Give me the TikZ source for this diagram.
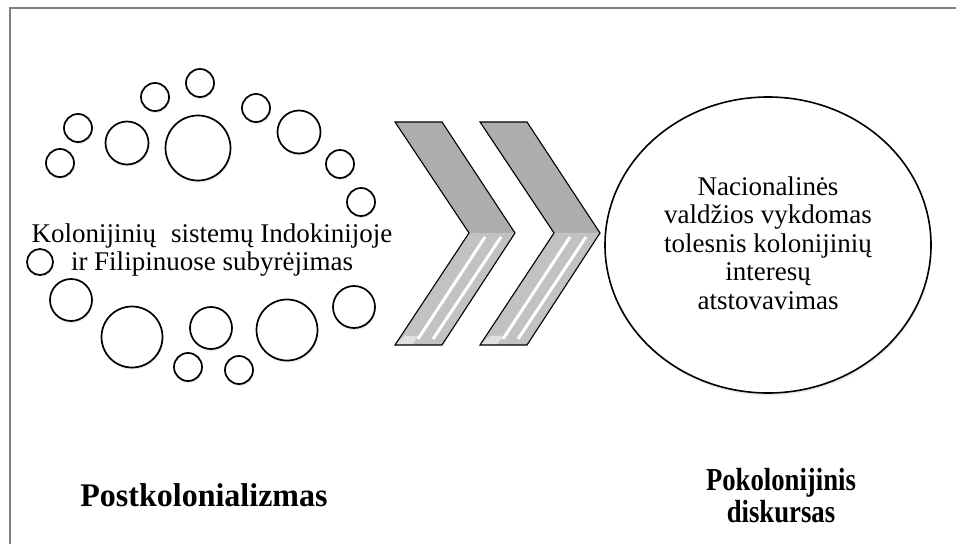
\documentclass[tikz,border=0pt]{standalone}
\usepackage{fontspec}
\usepackage{graphicx}
\setmainfont{Liberation Serif}
\usetikzlibrary{shadows,shapes.geometric}
\begin{document}
\begin{tikzpicture}[x=1bp,y=-1bp,
  ring/.style={circle,draw=black,line width=1.7bp,fill=white,inner sep=0pt,
    minimum size=#1,drop shadow={opacity=0.18,shadow xshift=0.8bp,shadow yshift=-2bp}},
  bigring/.style={ellipse,draw=black,line width=1.6bp,fill=white,inner sep=0pt,
    minimum width=326bp,minimum height=296bp,
    drop shadow={opacity=0.15,shadow xshift=0.8bp,shadow yshift=-2.5bp}},
  chevtop/.style={fill=black!32},
  chevlow/.style={fill=black!24},
  chevline/.style={draw=black,line width=1.1bp,line join=miter},
  stripe/.style={draw=white,line width=3bp},
  frameline/.style={draw=black!50,line width=2bp},
  bodytext/.style={font=\fontsize{27bp}{28.5bp}\selectfont,align=center,inner sep=0pt},
  headtext/.style={font=\bfseries\fontsize{33bp}{32bp}\selectfont,align=center,inner sep=0pt}]
\useasboundingbox (0,0) rectangle (956,544);
\fill[white] (0,0) rectangle (956,544);
\coordinate (fbl) at (10,544);
\coordinate (ftl) at (10,8);
\coordinate (ftr) at (956,8);
\draw[frameline] (fbl) -- (ftl) -- (ftr);

% small circles around the left text
\node[ring=28bp] (c1) at (60,163) {};
\node[ring=28bp] (c2) at (78,128) {};
\node[ring=43bp] (c3) at (127,143) {};
\node[ring=28bp] (c4) at (155,97) {};
\node[ring=28bp] (c5) at (200,83) {};
\node[ring=65bp] (c6) at (198,148) {};
\node[ring=28bp] (c7) at (256,108) {};
\node[ring=43bp] (c8) at (299,132) {};
\node[ring=28bp] (c9) at (340,164) {};
\node[ring=28bp] (c10) at (361,202) {};
\node[ring=26bp] (c11) at (40,262) {};
\node[ring=42bp] (c12) at (71,300) {};
\node[ring=61bp] (c13) at (132,337) {};
\node[ring=28bp] (c14) at (188,367) {};
\node[ring=42bp] (c15) at (211,328) {};
\node[ring=28bp] (c16) at (239,370) {};
\node[ring=61bp] (c17) at (287,330) {};
\node[ring=42bp] (c18) at (354,307) {};

\node[bodytext] (lefttext) at (212,250) {Kolonijinių\hspace{0.3em} sistemų Indokinijoje\\ir Filipinuose subyrėjimas};

% chevrons
\foreach \dx in {0,85}{
  \begin{scope}[xshift=\dx bp]
    \fill[chevtop] (395,122) -- (442,122) -- (515,233) -- (469,233) -- cycle;
    \fill[chevlow] (469,233) -- (515,233) -- (442,345) -- (395,345) -- cycle;
    \draw[stripe] (485,237) -- (418,339);
    \draw[stripe] (501,237) -- (433,339);
    \fill[white,opacity=0.5] (395,345) -- (405,336) -- (418,336) -- (412,345) -- cycle;
    \draw[chevline] (395,122) -- (442,122) -- (515,233) -- (442,345) -- (395,345) -- (469,233) -- cycle;
  \end{scope}
}

\node[bigring] (goal) at (768,245) {};
\node[bodytext] (righttext) at (768,243) {Nacionalinės\\valdžios vykdomas\\tolesnis kolonijinių\\interesų\\atstovavimas};

\node[headtext] (postk) at (204,495) {\scalebox{0.97}[1]{Postkolonializmas}};
\node[headtext,font=\bfseries\fontsize{32bp}{32bp}\selectfont] (pokol) at (781,496) {\scalebox{0.835}[1]{Pokolonijinis}\\\scalebox{0.835}[1]{diskursas}};
\end{tikzpicture}
\end{document}
